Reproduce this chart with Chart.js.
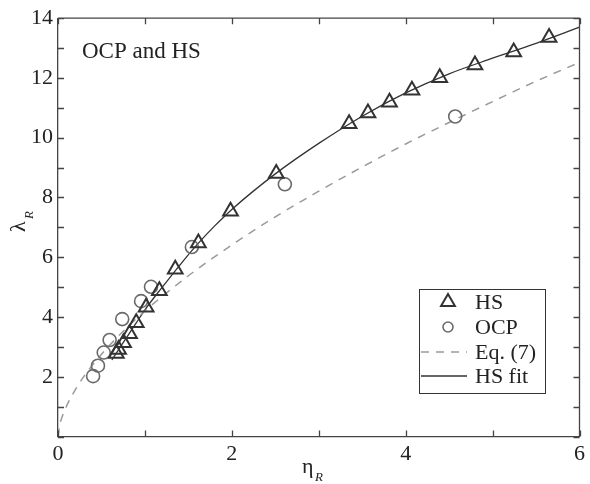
<!DOCTYPE html>
<html>
<head>
<meta charset="utf-8">
<script src="https://cdn.jsdelivr.net/npm/chart.js@4"></script>
<style>
  body { margin: 0; background: #fff; }
  #wrap { width: 590px; height: 484px; }
</style>
</head>
<body>
<div id="wrap"><canvas id="grafico" width="590" height="484"></canvas></div>
<script>
// HS simulaciones (triangulos)
const hsEta = [0.671, 0.697, 0.754, 0.823, 0.90, 1.014, 1.166, 1.349, 1.615, 1.985, 2.511,
               3.349, 3.566, 3.814, 4.072, 4.392, 4.797, 5.243, 5.650];
const hsLam = [2.78, 2.91, 3.14, 3.44, 3.81, 4.33, 4.88, 5.60, 6.48, 7.54, 8.80,
               10.47, 10.83, 11.19, 11.59, 12.01, 12.43, 12.87, 13.35];

// OCP (circulos)
const ocpEta = [0.404, 0.46, 0.526, 0.594, 0.739, 0.956, 1.07, 1.54, 2.61, 4.57];
const ocpLam = [2.02, 2.37, 2.81, 3.23, 3.93, 4.53, 5.01, 6.34, 8.44, 10.71];

// Eq. (7), curva discontinua
const eq7Eta = [0, 0.02, 0.05, 0.1, 0.2, 0.3, 0.5, 0.75, 1.0, 1.5, 2.0, 2.5, 3.0, 3.5, 4.0, 4.5, 5.0, 5.5, 6.0];
const eq7Lam = [0, 0.39, 0.68, 1.03, 1.57, 2.02, 2.75, 3.52, 4.2, 5.38, 6.41, 7.35, 8.21, 9.02, 9.79, 10.51, 11.21, 11.89, 12.52];

// HS fit, curva continua
const fitEta = [0.62, 0.7, 0.8, 0.9, 1.0, 1.2, 1.4, 1.6, 1.8, 2.0, 2.5, 3.0, 3.5, 4.0, 4.5, 5.0, 5.5, 6.0];
const fitLam = [2.56, 2.92, 3.36, 3.80, 4.24, 5.00, 5.73, 6.42, 7.04, 7.60, 8.79, 9.81, 10.72, 11.50, 12.14, 12.66, 13.16, 13.70];

const xTicks = [0, 1, 2, 3, 4, 5, 6];
const yTicks = [0, 1, 2, 3, 4, 5, 6, 7, 8, 9, 10, 11, 12, 13, 14];

const FUENTE = "'Liberation Serif', 'DejaVu Serif', serif";
const EJE = '#444';

const puntos = (xs, ys) => xs.map((x, i) => ({ x: x, y: ys[i] }));

// ticks hacia dentro en los cuatro lados, marco superior y derecho
const marcoPlugin = {
    id: 'marco',
    afterDatasetsDraw(chart) {
        const { ctx, chartArea: a, scales: { x, y } } = chart;
        ctx.save();
        ctx.strokeStyle = EJE;
        ctx.lineWidth = 1.3;
        ctx.beginPath();
        ctx.moveTo(a.left, a.top); ctx.lineTo(a.right, a.top); ctx.lineTo(a.right, a.bottom);
        xTicks.forEach(v => {
            const px = Math.round(x.getPixelForValue(v)) + 0.5;
            ctx.moveTo(px, a.bottom); ctx.lineTo(px, a.bottom - 6);
            ctx.moveTo(px, a.top); ctx.lineTo(px, a.top + 6);
        });
        yTicks.forEach(v => {
            const py = Math.round(y.getPixelForValue(v)) + 0.5;
            ctx.moveTo(a.left, py); ctx.lineTo(a.left + 6, py);
            ctx.moveTo(a.right, py); ctx.lineTo(a.right - 6, py);
        });
        ctx.stroke();
        ctx.restore();
    },
    afterDraw(chart) {
        const ctx = chart.ctx;
        ctx.save();
        ctx.fillStyle = '#222';

        // texto dentro del grafico
        ctx.font = '23px ' + FUENTE;
        ctx.textBaseline = 'alphabetic';
        ctx.fillText('OCP and HS', 82, 58);

        // titulo eje x
        ctx.font = '22px ' + FUENTE;
        ctx.fillText('η', 302, 473);
        ctx.font = 'italic 13px ' + FUENTE;
        ctx.fillText('R', 315, 481);

        // titulo eje y (rotado)
        ctx.save();
        ctx.translate(25, 225);
        ctx.rotate(-Math.PI / 2);
        ctx.font = '22px ' + FUENTE;
        ctx.fillText('λ', -7, 0);
        ctx.font = 'italic 13px ' + FUENTE;
        ctx.fillText('R', 6, 8);
        ctx.restore();

        // leyenda
        const box = { l: 419, t: 289, r: 545, b: 393 };
        ctx.fillStyle = '#fff';
        ctx.fillRect(box.l, box.t, box.r - box.l, box.b - box.t);
        ctx.strokeStyle = '#333';
        ctx.lineWidth = 1;
        ctx.strokeRect(box.l + 0.5, box.t + 0.5, box.r - box.l, box.b - box.t);

        const filas = [302, 327, 352, 376];
        chart.data.datasets.forEach((ds, i) => {
            const yy = filas[i];
            ctx.save();
            ctx.strokeStyle = ds.borderColor;
            if (ds.showLine) {
                ctx.lineWidth = ds.borderWidth;
                ctx.setLineDash(ds.borderDash || []);
                ctx.beginPath();
                ctx.moveTo(421, yy); ctx.lineTo(467, yy);
                ctx.stroke();
            } else {
                ctx.lineWidth = ds.pointBorderWidth;
                ctx.beginPath();
                if (ds.pointStyle === 'triangle') {
                    const r = 8;
                    ctx.moveTo(448, yy - r);
                    ctx.lineTo(448 + r * 0.866, yy + r / 2);
                    ctx.lineTo(448 - r * 0.866, yy + r / 2);
                    ctx.closePath();
                } else {
                    ctx.arc(448, yy, 5, 0, Math.PI * 2);
                }
                ctx.stroke();
            }
            ctx.restore();
            ctx.fillStyle = '#222';
            ctx.font = '22px ' + FUENTE;
            ctx.textBaseline = 'middle';
            ctx.fillText(ds.label, 475, yy + 1);
        });
        ctx.restore();
    }
};

const ejeComun = {
    type: 'linear',
    grid: { drawOnChartArea: false, drawTicks: false },
    border: { display: true, color: EJE, width: 1.3 },
};

new Chart(document.getElementById('grafico').getContext('2d'), {
    type: 'scatter',
    data: {
        datasets: [
            {
                label: 'HS',
                data: puntos(hsEta, hsLam),
                pointStyle: 'triangle',
                pointRadius: 8.5,
                pointBorderWidth: 2,
                borderColor: '#333',
                pointBorderColor: '#333',
                pointBackgroundColor: 'rgba(0,0,0,0)',
                showLine: false
            },
            {
                label: 'OCP',
                data: puntos(ocpEta, ocpLam),
                pointStyle: 'circle',
                pointRadius: 6.5,
                pointBorderWidth: 1.6,
                borderColor: '#6a6a6a',
                pointBorderColor: '#6a6a6a',
                pointBackgroundColor: 'rgba(0,0,0,0)',
                showLine: false
            },
            {
                label: 'Eq. (7)',
                data: puntos(eq7Eta, eq7Lam),
                showLine: true,
                pointRadius: 0,
                borderColor: '#9a9a9a',
                borderWidth: 1.5,
                borderDash: [8, 7],
                cubicInterpolationMode: 'monotone'
            },
            {
                label: 'HS fit',
                data: puntos(fitEta, fitLam),
                showLine: true,
                pointRadius: 0,
                borderColor: '#333',
                borderWidth: 1.3,
                cubicInterpolationMode: 'monotone'
            }
        ]
    },
    options: {
        responsive: false,
        animation: false,
        layout: { padding: { top: 14, right: 7, left: 0, bottom: 0 } },
        plugins: { legend: { display: false }, tooltip: { enabled: false } },
        scales: {
            x: {
                ...ejeComun,
                min: 0, max: 6,
                afterFit: s => { s.height = 47.5; },
                afterBuildTicks: s => { s.ticks = xTicks.map(v => ({ value: v })); },
                ticks: {
                    autoSkip: false, maxRotation: 0, padding: 5, color: '#222',
                    font: { family: FUENTE, size: 22 },
                    callback: v => (v % 2 === 0 ? v : '')
                }
            },
            y: {
                ...ejeComun,
                min: 0, max: 14,
                afterFit: s => { s.width = 58; },
                afterBuildTicks: s => { s.ticks = yTicks.map(v => ({ value: v })); },
                ticks: {
                    autoSkip: false, padding: 5, color: '#222',
                    font: { family: FUENTE, size: 22 },
                    callback: v => (v % 2 === 0 && v !== 0 ? v : '')
                }
            }
        }
    },
    plugins: [marcoPlugin]
});
</script>
</body>
</html>
